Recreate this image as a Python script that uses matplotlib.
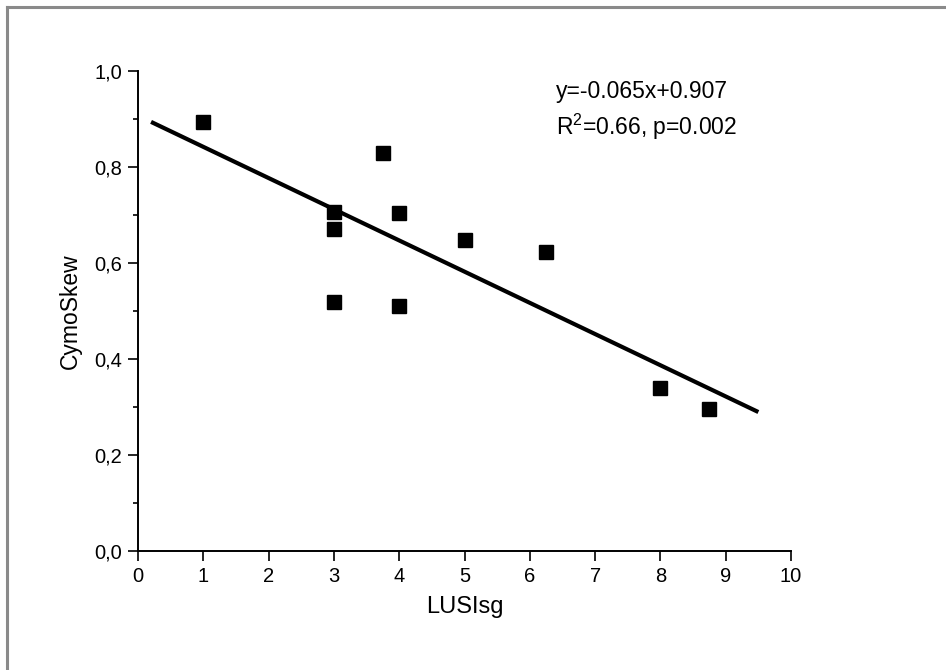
import matplotlib
matplotlib.use("Agg")
import matplotlib.pyplot as plt
from matplotlib.ticker import MultipleLocator, FuncFormatter

plt.rcParams['font.family'] = ['Liberation Sans', 'DejaVu Sans']
plt.rcParams['mathtext.fontset'] = 'custom'
plt.rcParams['mathtext.rm'] = 'Liberation Sans'
plt.rcParams['mathtext.it'] = 'Liberation Sans'

lusisg = [1, 3, 3, 3, 3.75, 4, 4, 5, 6.25, 8, 8.75]
cymoskew = [0.893, 0.706, 0.670, 0.518, 0.829, 0.704, 0.510, 0.647, 0.622, 0.340, 0.295]
slope = -0.065
intercept = 0.907
fit_x = [0.2, 9.5]
fit_y = [intercept + slope * v for v in fit_x]
x_ticks = list(range(0, 11))
y_ticks = [0.0, 0.2, 0.4, 0.6, 0.8, 1.0]

fig = plt.figure(figsize=(9.46, 6.70), dpi=100)
ax = fig.add_axes([138/946, 1 - 551/670, (791-138)/946, (551-71)/670])

# frame border (top and left, gray)
fig.add_artist(plt.Line2D([7/946, 1], [1 - 7/670, 1 - 7/670], transform=fig.transFigure, color='#8a8a8a', lw=2.2))
fig.add_artist(plt.Line2D([7/946, 7/946], [0, 1 - 7/670], transform=fig.transFigure, color='#8a8a8a', lw=2.2))

ax.plot(fit_x, fit_y, color='black', lw=3.0, solid_capstyle='butt', zorder=2)
ax.plot(lusisg, cymoskew, linestyle='none', marker='s', markersize=10.5, color='black', zorder=3)

ax.set_xlim(0, 10)
ax.set_ylim(0, 1.0)
ax.set_xticks(x_ticks)
ax.set_yticks(y_ticks)
ax.yaxis.set_minor_locator(MultipleLocator(0.1))
ax.yaxis.set_major_formatter(FuncFormatter(lambda v, p: f"{v:.1f}".replace('.', ',')))

for s in ['top', 'right']:
    ax.spines[s].set_visible(False)
for s in ['left', 'bottom']:
    ax.spines[s].set_linewidth(1.4)

ax.tick_params(axis='both', which='major', direction='out', length=7, width=1.2, labelsize=14.5, pad=4.5)
ax.tick_params(axis='y', which='minor', direction='out', length=3.6, width=1.2)

ax.set_xlabel('LUSIsg', fontsize=17, labelpad=7)
ax.set_ylabel('CymoSkew', fontsize=16.5, labelpad=9)

ax.text(6.4, 0.958, 'y=-0.065x+0.907', fontsize=16.5, va='center', ha='left')
ax.text(6.4, 0.883, r'R$^2$=0.66, p=0.002', fontsize=16.5, va='center', ha='left')

fig.savefig('out.png', dpi=100)
